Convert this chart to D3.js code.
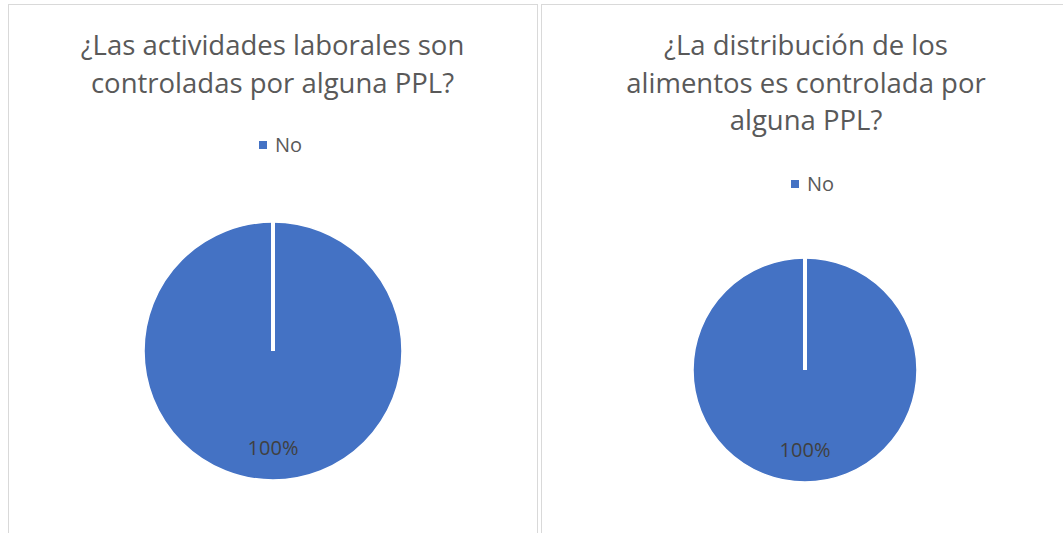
<!DOCTYPE html>
<html>
<head>
<meta charset="utf-8">
<script src="https://cdn.jsdelivr.net/npm/d3@7"></script>
<style>
  body { margin: 0; background: #fff; }
  svg { display: block; font-family: "Open Sans", "Noto Sans", sans-serif; }
</style>
</head>
<body>
<svg id="chart" width="1063" height="533"></svg>
<script>
var categories = ['No'];
var laboralesValues = [1];
var alimentosValues = [1];
var laboralesTitle = ['¿Las actividades laborales son', 'controladas por alguna PPL?'];
var alimentosTitle = ['¿La distribución de los', 'alimentos es controlada por', 'alguna PPL?'];

var svg = d3.select('#chart');
var color = d3.scaleOrdinal().domain(categories).range(['#4472c4']);
var pct = d3.format('.0%');

function drawPanel(opts) {
  var g = svg.append('g');

  g.append('rect')
    .attr('x', opts.x + 0.5).attr('y', opts.y + 0.5)
    .attr('width', opts.w).attr('height', opts.h)
    .attr('fill', '#fff').attr('stroke', '#d9d9d9');

  var cx = opts.x + opts.w / 2;

  g.selectAll('.title').data(opts.title).enter()
    .append('text').attr('class', 'title')
    .attr('x', cx)
    .attr('y', function (d, i) { return opts.titleY + i * 37.5; })
    .attr('text-anchor', 'middle')
    .attr('font-size', 27.5)
    .attr('fill', '#595959')
    .text(function (d) { return d; });

  var legend = g.selectAll('.legend').data(categories).enter()
    .append('g').attr('class', 'legend')
    .attr('transform', 'translate(' + (opts.pie.cx - 14) + ',' + opts.legendY + ')');
  legend.append('rect')
    .attr('x', 0).attr('y', -4).attr('width', 8).attr('height', 8)
    .attr('fill', function (d) { return color(d); });
  legend.append('text')
    .attr('x', 16).attr('y', 0).attr('dy', '0.35em')
    .attr('font-size', 20).attr('fill', '#595959')
    .text(function (d) { return d; });

  var total = d3.sum(opts.values);
  var arcs = d3.pie().sort(null)(opts.values);

  var arc = d3.arc().innerRadius(0).outerRadius(opts.pie.r);
  var pg = g.append('g').attr('transform', 'translate(' + opts.pie.cx + ',' + opts.pie.cy + ')');

  pg.selectAll('path').data(arcs).enter()
    .append('path')
    .attr('d', arc)
    .attr('fill', function (d, i) { return color(categories[i]); })
    .attr('stroke', '#fff').attr('stroke-width', 1.5);

  // slice border from centre to where each slice starts
  pg.selectAll('.edge').data(arcs).enter()
    .append('line').attr('class', 'edge')
    .attr('x1', 0).attr('y1', 0)
    .attr('x2', function (d) { return opts.pie.r * Math.sin(d.startAngle); })
    .attr('y2', function (d) { return -opts.pie.r * Math.cos(d.startAngle); })
    .attr('stroke', '#fff').attr('stroke-width', 4);

  pg.selectAll('.label').data(arcs).enter()
    .append('text').attr('class', 'label')
    .attr('x', 0).attr('y', opts.pie.r * opts.pie.labelR)
    .attr('dy', '0.35em')
    .attr('text-anchor', 'middle')
    .attr('font-size', 20).attr('fill', '#404040')
    .text(function (d) { return pct(d.value / total); });
}

drawPanel({
  x: 8, y: 4, w: 529, h: 540,
  title: laboralesTitle, titleY: 55, legendY: 145,
  values: laboralesValues,
  pie: { cx: 273, cy: 351, r: 129, labelR: 0.75 }
});

drawPanel({
  x: 541, y: 4, w: 530, h: 540,
  title: alimentosTitle, titleY: 55, legendY: 184,
  values: alimentosValues,
  pie: { cx: 805, cy: 370, r: 112, labelR: 0.71 }
});
</script>
</body>
</html>
